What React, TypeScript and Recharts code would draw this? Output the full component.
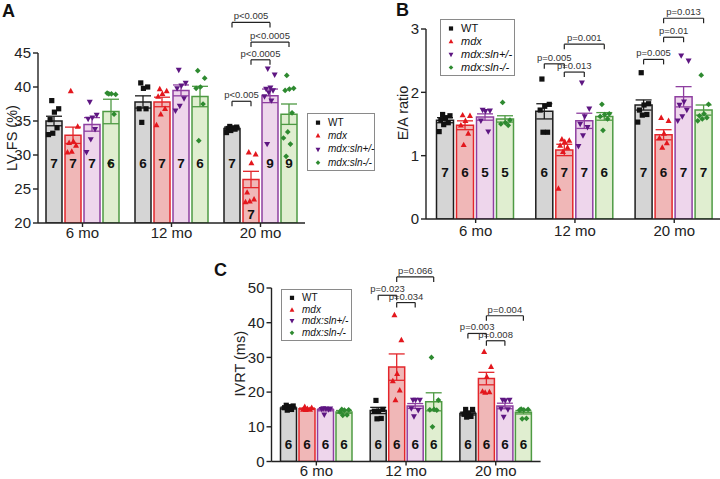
import React from "react"
import { Bar, ComposedChart, ErrorBar, LabelList, Legend, ReferenceLine, Scatter, XAxis, YAxis } from "recharts"

const FONT = '"Liberation Sans", Arial, Helvetica, sans-serif'

const ages = ["6 mo", "12 mo", "20 mo"]
const genotypes = ["WT", "mdx", "mdx:sln+/-", "mdx:sln-/-"]

// A: LV fractional shortening (%), rows = age, cols = genotype
const fsMean = [
  [35.0, 32.9, 34.5, 36.4],
  [37.8, 37.8, 39.5, 38.6],
  [33.9, 26.4, 38.7, 36.0],
]
const fsSem = [
  [0.7, 1.2, 1.0, 1.8],
  [0.9, 0.7, 0.8, 1.5],
  [0.2, 1.2, 1.0, 1.5],
]
const fsPoints = [
  [
    [38.0, 36.8, 36.3, 35.2, 34.0, 33.2, 33.0],
    [39.4, 34.2, 32.0, 31.8, 31.4, 30.5, 30.4],
    [37.8, 35.9, 35.5, 35.3, 33.8, 32.3, 30.4],
    [39.0, 38.9, 39.0, 39.1, 36.0, 28.8],
  ],
  [
    [40.6, 40.0, 39.8, 36.8, 36.8, 34.8],
    [39.7, 39.4, 39.0, 38.6, 36.8, 36.0, 34.4],
    [42.5, 40.6, 40.2, 39.8, 38.3, 37.2, 36.5],
    [42.4, 41.3, 40.0, 39.8, 37.5, 32.1],
  ],
  [
    [34.2, 34.1, 34.0, 33.9, 33.8, 33.6, 33.3],
    [30.4, 30.1, 28.8, 24.5, 23.5, 23.2, 23.1],
    [42.7, 41.8, 39.9, 39.7, 39.5, 39.2, 38.6, 38.0, 31.6],
    [41.7, 39.8, 39.7, 39.5, 36.2, 33.4, 32.5, 31.6, 29.8],
  ],
]
const fsBrackets = [
  { age: 2, from: 0, to: 1, y: 37.9, text: "p<0.005" },
  { age: 2, from: 1, to: 2, y: 44.0, text: "p<0.0005" },
  { age: 2, from: 1, to: 3, y: 46.6, text: "p<0.0005" },
  { age: 2, from: 0, to: 2, y: 49.5, text: "p<0.005" },
]

// B: E/A ratio
const eaMean = [
  [1.56, 1.48, 1.61, 1.58],
  [1.7, 1.09, 1.55, 1.62],
  [1.8, 1.33, 1.93, 1.72],
]
const eaSem = [
  [0.04, 0.07, 0.05, 0.05],
  [0.12, 0.09, 0.12, 0.06],
  [0.08, 0.08, 0.16, 0.08],
]
const eaPoints = [
  [
    [1.65, 1.63, 1.6, 1.56, 1.52, 1.49, 1.38],
    [1.64, 1.63, 1.55, 1.48, 1.35, 1.17],
    [1.72, 1.71, 1.7, 1.55, 1.38],
    [1.84, 1.56, 1.52, 1.5, 1.48],
  ],
  [
    [2.21, 1.81, 1.78, 1.72, 1.37, 1.37],
    [1.26, 1.24, 1.22, 1.16, 1.13, 1.06, 0.48],
    [2.15, 1.74, 1.62, 1.5, 1.45, 1.32, 1.15],
    [1.81, 1.66, 1.65, 1.62, 1.58, 1.4],
  ],
  [
    [2.31, 1.82, 1.8, 1.72, 1.65, 1.64, 1.53],
    [1.6, 1.55, 1.35, 1.28, 1.2, 1.13],
    [2.58, 2.5, 1.85, 1.8, 1.72, 1.62, 1.55],
    [2.27, 1.81, 1.66, 1.63, 1.6, 1.58, 1.55],
  ],
]
const eaBrackets = [
  { age: 1, from: 0, to: 1, y: 2.45, text: "p=0.005" },
  { age: 1, from: 1, to: 2, y: 2.32, text: "p=0.013" },
  { age: 1, from: 1, to: 3, y: 2.76, text: "p=0.001" },
  { age: 2, from: 0, to: 1, y: 2.52, text: "p=0.005" },
  { age: 2, from: 1, to: 2, y: 2.87, text: "p=0.01" },
  { age: 2, from: 1, to: 3, y: 3.17, text: "p=0.013" },
]

// C: IVRT (ms)
const ivrtMean = [
  [15.4, 15.2, 14.9, 14.3],
  [14.7, 27.2, 16.0, 17.2],
  [13.8, 23.9, 16.0, 14.2],
]
const ivrtSem = [
  [0.3, 0.2, 0.3, 0.4],
  [0.9, 3.8, 0.7, 2.6],
  [0.4, 1.8, 0.8, 0.5],
]
const ivrtPoints = [
  [
    [16.2, 16.0, 15.8, 15.5, 15.0, 14.8],
    [15.8, 15.5, 15.2, 15.0, 15.0, 14.9],
    [15.3, 15.2, 15.2, 15.1, 15.0, 13.5],
    [15.0, 14.9, 14.8, 14.2, 13.4, 13.3],
  ],
  [
    [17.6, 15.0, 14.5, 14.5, 12.4, 12.3],
    [42.2, 35.0, 25.3, 23.2, 20.5, 17.7],
    [17.7, 17.7, 17.7, 15.3, 14.8, 13.0],
    [30.0, 17.7, 15.0, 14.9, 14.8, 10.0],
  ],
  [
    [15.0, 15.0, 14.0, 13.6, 13.0, 12.8],
    [31.6, 27.3, 24.4, 20.2, 20.0, 19.9],
    [17.7, 17.7, 17.6, 15.2, 15.0, 12.8],
    [15.1, 15.0, 14.9, 14.8, 12.4, 12.3],
  ],
]
const ivrtBrackets = [
  { age: 1, from: 0, to: 1, y: 47.9, text: "p=0.023" },
  { age: 1, from: 1, to: 2, y: 45.8, text: "p=0.034" },
  { age: 1, from: 1, to: 3, y: 53.2, text: "p=0.066" },
  { age: 2, from: 0, to: 1, y: 36.9, text: "p=0.003" },
  { age: 2, from: 1, to: 2, y: 34.8, text: "p=0.008" },
  { age: 2, from: 1, to: 3, y: 42.0, text: "p=0.004" },
]

const styles = [
  { fill: "#d5d5d5", stroke: "#1c1c1c", dot: "#111111", marker: "square" },
  { fill: "#f0b7b7", stroke: "#e3262b", dot: "#e3171d", marker: "up" },
  { fill: "#eed6ec", stroke: "#8e3fa0", dot: "#5e1682", marker: "down" },
  { fill: "#e0eed0", stroke: "#4e9a43", dot: "#2e8a30", marker: "diamond" },
]

function mark(kind: string, cx: number, cy: number, r: number, color: string) {
  if (kind === "square") return <rect x={cx - r} y={cy - r} width={2 * r} height={2 * r} fill={color} />
  if (kind === "up")
    return <polygon points={`${cx},${cy - r * 1.25} ${cx + r * 1.15},${cy + r * 0.85} ${cx - r * 1.15},${cy + r * 0.85}`} fill={color} />
  if (kind === "down")
    return <polygon points={`${cx},${cy + r * 1.25} ${cx + r * 1.15},${cy - r * 0.85} ${cx - r * 1.15},${cy - r * 0.85}`} fill={color} />
  return <polygon points={`${cx},${cy - r * 1.1} ${cx + r * 1.1},${cy} ${cx},${cy + r * 1.1} ${cx - r * 1.1},${cy}`} fill={color} />
}

// spread the points of one bar across its width
const jitter = (i: number) => (((i * 0.618034 + 0.3) % 1) - 0.5) * 0.7

function Key({ width, fontSize, row }: { width: number; fontSize: number; row: number }) {
  return (
    <div
      style={{
        width,
        boxSizing: "border-box",
        border: "1px solid #8a8a8a",
        background: "#fff",
        padding: "2px 0 1px 0",
        fontFamily: FONT,
        fontSize,
        color: "#111",
      }}
    >
      {genotypes.map((g, k) => (
        <div key={g} style={{ display: "flex", alignItems: "center", height: row }}>
          <svg width={20} height={row} style={{ flex: "none" }}>
            {mark(styles[k].marker, 10, row / 2, 2.1, styles[k].dot)}
          </svg>
          <span style={{ fontStyle: k ? "italic" : "normal", whiteSpace: "nowrap", lineHeight: 1 }}>{g}</span>
        </div>
      ))}
    </div>
  )
}

type Bracket = { age: number; from: number; to: number; y: number; text: string }

type PanelProps = {
  left: number
  top: number
  yAxisWidth: number
  band: number
  catGap: number
  barGap: number
  marginTop: number
  plotHeight: number
  xTickMargin: number
  domain: [number, number]
  ticks: number[]
  title: string
  titleX: number
  titleDy: number
  nLift: number
  means: number[][]
  sems: number[][]
  points: number[][][]
  brackets: Bracket[]
  legend: { x: number; y: number; w: number; fontSize: number; row: number }
}

function Panel(p: PanelProps) {
  const width = p.yAxisWidth + p.band * 3
  const height = p.marginTop + p.plotHeight + 24
  const size = Math.floor((p.band - 2 * p.catGap - 3 * p.barGap) / 4)
  const centre = (a: number, k: number) => a + (p.catGap + (size + p.barGap) * k + size / 2) / p.band
  const tickLen = 5 / (p.plotHeight / (p.domain[1] - p.domain[0]))

  const rows = ages.map((age, a) => {
    const r: Record<string, number | string> = { age }
    genotypes.forEach((_, k) => {
      r["m" + k] = p.means[a][k]
      r["e" + k] = p.sems[a][k]
      r["n" + k] = p.points[a][k].length
    })
    return r
  })

  const dots = genotypes.map((_, k) =>
    ages.flatMap((_, a) => p.points[a][k].map((v, i) => ({ x: centre(a, k) + (jitter(i) * size) / p.band, y: v })))
  )

  const nLabel = (props: any) => {
    const vb = props.viewBox && props.viewBox.width !== undefined ? props.viewBox : props
    const { x, y, width: w, height: h } = vb
    const bottom = y + h
    let base = bottom - p.nLift
    if (base - 13 < y) base = bottom - 4
    return (
      <text x={x + w / 2} y={base} textAnchor="middle" fontSize={13.5} fontWeight="bold" fill="#111" fontFamily={FONT}>
        {props.value}
      </text>
    )
  }

  const yTitle = (props: any) => {
    const vb = props.viewBox
    const cx = vb.x + p.titleX
    const cy = vb.y + vb.height / 2 + p.titleDy
    return (
      <text
        x={cx}
        y={cy}
        transform={`rotate(-90 ${cx} ${cy})`}
        textAnchor="middle"
        dominantBaseline="central"
        fontSize={14.5}
        fill="#222"
        fontFamily={FONT}
      >
        {p.title}
      </text>
    )
  }

  const lineProps = { xAxisId: "num", stroke: "#222", strokeWidth: 1.2, ifOverflow: "visible" as const }

  return (
    <div style={{ position: "absolute", left: p.left, top: p.top }}>
      <ComposedChart
        width={width}
        height={height}
        data={rows}
        margin={{ top: p.marginTop, right: 0, left: 0, bottom: 0 }}
        barGap={p.barGap}
        barCategoryGap={p.catGap}
      >
        <XAxis
          xAxisId="cat"
          dataKey="age"
          interval={0}
          height={24}
          tickSize={4}
          tickMargin={p.xTickMargin}
          stroke="#222"
          strokeWidth={1.4}
          tick={{ fontSize: 15, fill: "#222", fontFamily: FONT }}
        />
        <XAxis xAxisId="num" type="number" dataKey="x" domain={[0, 3]} allowDataOverflow hide />
        <YAxis
          dataKey="y"
          domain={p.domain}
          ticks={p.ticks}
          allowDataOverflow
          interval={0}
          width={p.yAxisWidth}
          tickSize={5}
          stroke="#222"
          strokeWidth={1.4}
          tick={{ fontSize: 15, fill: "#222", fontFamily: FONT }}
          label={{ content: yTitle }}
        />
        {genotypes.map((g, k) => (
          <Bar
            key={g}
            xAxisId="cat"
            dataKey={"m" + k}
            fill={styles[k].fill}
            stroke={styles[k].stroke}
            strokeWidth={1.5}
            isAnimationActive={false}
          >
            <ErrorBar dataKey={"e" + k} width={8} stroke={styles[k].stroke} strokeWidth={1.3} direction="y" />
            <LabelList dataKey={"n" + k} content={nLabel} />
          </Bar>
        ))}
        {genotypes.map((g, k) => (
          <Scatter
            key={"s" + g}
            xAxisId="num"
            dataKey="y"
            data={dots[k]}
            isAnimationActive={false}
            shape={(sp: any) => mark(styles[k].marker, sp.cx, sp.cy, 2.6, styles[k].dot)}
          />
        ))}
        {p.brackets.flatMap((b, i) => {
          const x1 = centre(b.age, b.from)
          const x2 = centre(b.age, b.to)
          return [
            <ReferenceLine
              key={"h" + i}
              {...lineProps}
              segment={[
                { x: x1, y: b.y },
                { x: x2, y: b.y },
              ]}
              label={{ value: b.text, position: "top", offset: 3, fontSize: 9.5, fill: "#333", fontFamily: FONT }}
            />,
            <ReferenceLine
              key={"l" + i}
              {...lineProps}
              segment={[
                { x: x1, y: b.y },
                { x: x1, y: b.y - tickLen },
              ]}
            />,
            <ReferenceLine
              key={"r" + i}
              {...lineProps}
              segment={[
                { x: x2, y: b.y },
                { x: x2, y: b.y - tickLen },
              ]}
            />,
          ]
        })}
        <Legend
          layout="vertical"
          align="center"
          verticalAlign="middle"
          wrapperStyle={{ left: p.legend.x - p.left, top: p.legend.y - p.top, width: p.legend.w }}
          content={() => <Key width={p.legend.w} fontSize={p.legend.fontSize} row={p.legend.row} />}
        />
      </ComposedChart>
    </div>
  )
}

export default function App() {
  return (
    <div
      style={{
        position: "absolute",
        left: 0,
        top: 0,
        width: 720,
        height: 479,
        overflow: "hidden",
        background: "#fff",
        fontFamily: FONT,
      }}
    >
      <Panel
        left={0}
        top={0}
        yAxisWidth={38}
        band={89}
        catGap={8}
        barGap={3}
        marginTop={53}
        plotHeight={170}
        xTickMargin={0}
        domain={[20, 45]}
        ticks={[20, 25, 30, 35, 40, 45]}
        title="LV FS (%)"
        titleX={12}
        titleDy={0}
        nLift={55}
        means={fsMean}
        sems={fsSem}
        points={fsPoints}
        brackets={fsBrackets}
        legend={{ x: 307, y: 113, w: 68, fontSize: 10, row: 13.3 }}
      />
      <Panel
        left={380}
        top={0}
        yAxisWidth={46}
        band={99.3}
        catGap={10.5}
        barGap={3}
        marginTop={29}
        plotHeight={190}
        xTickMargin={2}
        domain={[0, 3]}
        ticks={[0, 1, 2, 3]}
        title="E/A ratio"
        titleX={23}
        titleDy={-11}
        nLift={42}
        means={eaMean}
        sems={eaSem}
        points={eaPoints}
        brackets={eaBrackets}
        legend={{ x: 440, y: 19, w: 75, fontSize: 11, row: 13 }}
      />
      <Panel
        left={200}
        top={240}
        yAxisWidth={71.5}
        band={89.7}
        catGap={9}
        barGap={2.5}
        marginTop={48}
        plotHeight={173.5}
        xTickMargin={0}
        domain={[0, 50]}
        ticks={[0, 10, 20, 30, 40, 50]}
        title="IVRT (ms)"
        titleX={40}
        titleDy={-11}
        nLift={12.5}
        means={ivrtMean}
        sems={ivrtSem}
        points={ivrtPoints}
        brackets={ivrtBrackets}
        legend={{ x: 281, y: 289, w: 71, fontSize: 10, row: 11.7 }}
      />
      <svg width={720} height={479} style={{ position: "absolute", left: 0, top: 0, pointerEvents: "none" }}>
        <text x={2} y={17} fontSize={18} fontWeight="bold" fill="#111" fontFamily={FONT}>
          A
        </text>
        <text x={396} y={16} fontSize={18} fontWeight="bold" fill="#111" fontFamily={FONT}>
          B
        </text>
        <text x={214} y={276} fontSize={18} fontWeight="bold" fill="#111" fontFamily={FONT}>
          C
        </text>
      </svg>
    </div>
  )
}
